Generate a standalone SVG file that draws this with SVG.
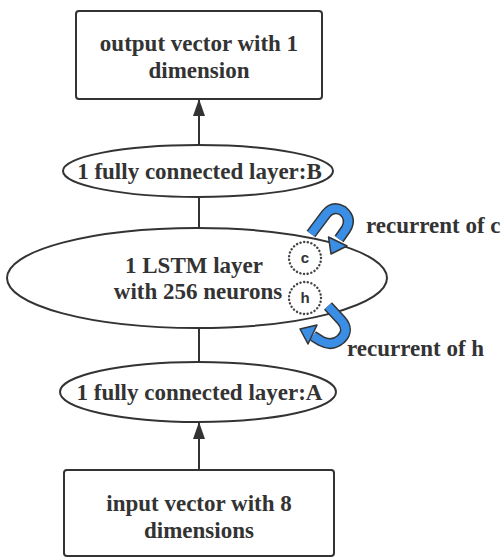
<svg xmlns="http://www.w3.org/2000/svg" width="503" height="560" viewBox="0 0 503 560">
  <defs>
    <marker id="arrow" markerWidth="17" markerHeight="12" refX="17" refY="6" orient="auto" markerUnits="userSpaceOnUse" viewBox="0 0 17 12">
      <path d="M0 0 L17 6 L0 12 Z" fill="#333"/>
    </marker>
  </defs>
  <style>
    .box { fill: #fff; stroke: #333; stroke-width: 2; }
    .lbl { font-family: "Liberation Serif", "Times New Roman", serif; font-weight: bold; font-size: 23px; fill: #333; text-anchor: middle; }
    .side { font-family: "Liberation Serif", "Times New Roman", serif; font-weight: bold; font-size: 23px; fill: #333; }
    .state { fill: none; stroke: #444; stroke-width: 2.4; stroke-dasharray: 0.1 3.6; stroke-linecap: round; }
    .st { font-family: "Liberation Sans", Arial, sans-serif; font-weight: bold; font-size: 15px; fill: #333; text-anchor: middle; }
    .edge { stroke: #333; stroke-width: 2; fill: none; }
    .loop-out { fill: none; stroke: #333; stroke-width: 11; stroke-linejoin: round; }
    .loop-in { fill: none; stroke: #3a8ee6; stroke-width: 8; stroke-linejoin: round; }
    .head { fill: #3a8ee6; stroke: #333; stroke-width: 1.5; stroke-linejoin: round; }
  </style>

  <!-- connectors -->
  <g id="connectors">
    <line class="edge" x1="199" y1="145" x2="199" y2="99" marker-end="url(#arrow)"/>
    <line class="edge" x1="199" y1="197" x2="199" y2="228"/>
    <line class="edge" x1="199" y1="328" x2="199" y2="362"/>
    <line class="edge" x1="199" y1="470" x2="199" y2="422" marker-end="url(#arrow)"/>
  </g>

  <g id="output">
    <rect class="box" x="76" y="11" width="246" height="88" rx="3"/>
    <text class="lbl" x="199" y="51">output vector with 1</text>
    <text class="lbl" x="199" y="78">dimension</text>
  </g>

  <g id="fc-b">
    <ellipse class="box" cx="198" cy="171" rx="135" ry="26"/>
    <text class="lbl" x="199.5" y="179">1 fully connected layer:B</text>
  </g>

  <g id="lstm">
    <ellipse class="box" cx="197" cy="278" rx="190" ry="50"/>
    <text class="lbl" x="194" y="273">1 LSTM layer</text>
    <text class="lbl" x="198" y="299">with 256 neurons</text>
  </g>

  <g id="state-c">
    <circle class="state" cx="305" cy="258" r="16"/>
    <text class="st" x="305" y="263">c</text>
  </g>

  <g id="state-h">
    <circle class="state" cx="305" cy="298" r="16"/>
    <text class="st" x="305" y="303">h</text>
  </g>

  <!-- recurrent loop on c -->
  <g id="loop-c">
    <path class="loop-out" d="M311 234 L326 214 Q333 205 343 211 Q352 219 346 229 L339 239"/>
    <path class="loop-in" d="M311 234 L326 214 Q333 205 343 211 Q352 219 346 229 L339 239"/>
    <path class="head" d="M331 254 L347 246 L328.5 237 Z"/>
    <text class="side" x="366" y="233">recurrent of c</text>
  </g>

  <!-- recurrent loop on h -->
  <g id="loop-h">
    <path class="loop-out" d="M328 306 L341 320 Q350 330 341 339 Q332 347 321 341 L313 336"/>
    <path class="loop-in" d="M328 306 L341 320 Q350 330 341 339 Q332 347 321 341 L313 336"/>
    <path class="head" d="M300 329 L317 325 L308 344 Z"/>
    <text class="side" x="347" y="356">recurrent of h</text>
  </g>

  <g id="fc-a">
    <ellipse class="box" cx="198" cy="392" rx="138" ry="30"/>
    <text class="lbl" x="199.5" y="400">1 fully connected layer:A</text>
  </g>

  <g id="input">
    <rect class="box" x="64" y="470" width="270" height="86" rx="3"/>
    <text class="lbl" x="199" y="511">input vector with 8</text>
    <text class="lbl" x="199" y="538">dimensions</text>
  </g>
</svg>
